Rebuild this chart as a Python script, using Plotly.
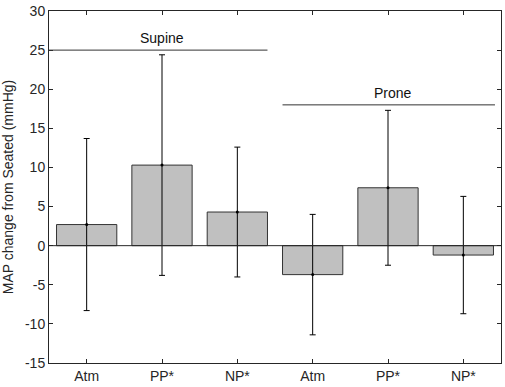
import plotly.graph_objects as go

positions = [1, 2, 3, 4, 5, 6]
tick_labels = ["Atm", "PP*", "NP*", "Atm", "PP*", "NP*"]
mean_change = [2.7, 10.3, 4.3, -3.7, 7.4, -1.2]
sd_change = [11.0, 14.1, 8.3, 7.7, 9.9, 7.5]
y_ticks = [-15, -10, -5, 0, 5, 10, 15, 20, 25, 30]

group_names = ["Supine", "Prone"]
group_x_start = [0.5, 3.6]
group_x_end = [3.4, 6.42]
group_label_x = [2.0, 5.07]
group_level = [25, 18]

FONT = "Liberation Sans, Arial, sans-serif"
TXT = "#262626"

fig = go.Figure()
fig.add_trace(go.Bar(
    x=positions, y=mean_change, width=0.8,
    marker=dict(color="#c0c0c0", line=dict(color="#333333", width=1)),
    showlegend=False, hoverinfo="skip",
))
fig.add_trace(go.Scatter(
    x=positions, y=mean_change, mode="markers",
    marker=dict(color="black", size=3),
    error_y=dict(type="data", array=sd_change, visible=True, color="black", thickness=1, width=3),
    showlegend=False,
))

for name, x0, x1, lx, lvl in zip(group_names, group_x_start, group_x_end, group_label_x, group_level):
    fig.add_shape(type="line", xref="x", yref="y", x0=x0, x1=x1, y0=lvl, y1=lvl,
                  line=dict(color="#333333", width=1))
    fig.add_annotation(x=lx, y=lvl, xref="x", yref="y",
                       text=name, showarrow=False, yshift=12,
                       font=dict(size=14, color="#111111", family=FONT))

axis_common = dict(
    showline=True, mirror="ticks", linecolor="#262626", linewidth=1,
    ticks="inside", ticklen=4, tickcolor="#262626",
    showgrid=False, zeroline=False, ticklabeloverflow="allow",
    tickfont=dict(size=14, color=TXT, family=FONT),
)
fig.update_xaxes(range=[0.5, 6.5], tickvals=positions, ticktext=tick_labels, **axis_common)
fig.update_yaxes(range=[-15, 30], tickvals=y_ticks, ticktext=[str(v) for v in y_ticks],
                 title=dict(text="MAP change from Seated (mmHg)", standoff=8,
                            font=dict(size=14, color=TXT, family=FONT)),
                 **axis_common)
fig.add_shape(type="line", xref="paper", yref="y", x0=0, x1=1, y0=0, y1=0,
              line=dict(color="#262626", width=1))

fig.update_layout(
    width=505, height=387,
    margin=dict(l=49, r=3, t=7, b=23),
    plot_bgcolor="white", paper_bgcolor="white",
    font=dict(family=FONT, size=14, color=TXT),
)
fig.write_html("out.html", config={"displayModeBar": False},
               post_script="document.body.style.margin='0';document.body.style.overflow='hidden';")
